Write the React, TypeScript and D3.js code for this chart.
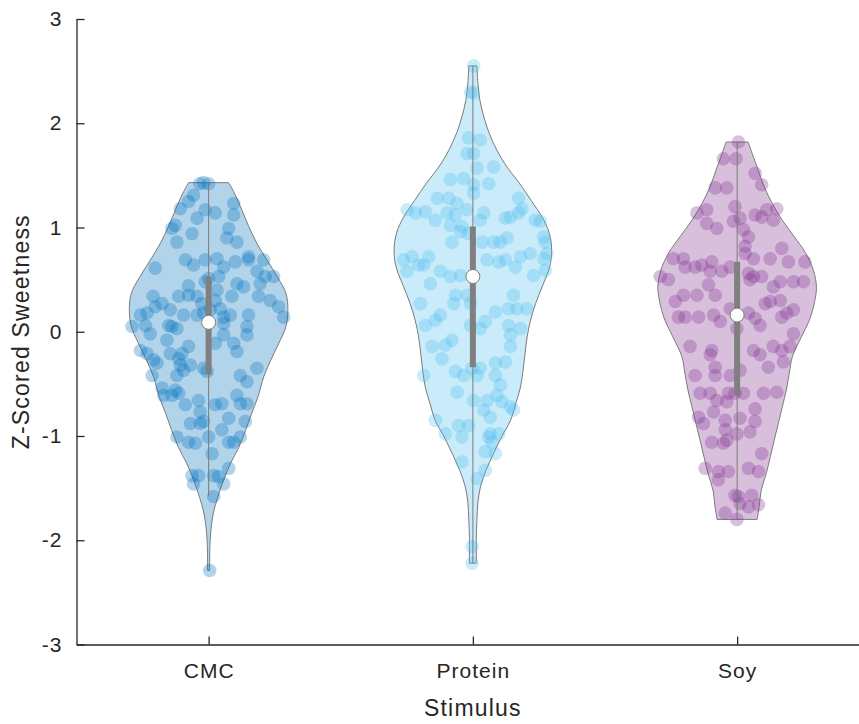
import { useEffect, useRef } from 'react';
import * as d3 from 'd3';

const categories = ['CMC', 'Protein', 'Soy'];
const colors = ['#0072BD', '#4DBEEE', '#7E2F8E'];
const yTicks = [-3, -2, -1, 0, 1, 2, 3];

// scores per stimulus, with the horizontal jitter of each dot (in category units)
const cmcValues = [
  1.42, 1.42, 1.43, 1.31, 1.25, 1.18, 1.09, 1.17, 1.14, 0.94,
  1.02, 0.99, 0.86, 1.23, 1.12, 0.99, 0.90, 0.86, 0.61, 0.69,
  0.64, 0.69, 0.70, 0.62, 0.67, 0.72, 0.69, 0.69, 0.58, 0.53,
  0.53, 0.46, 0.46, 0.43, 0.53, 0.51, 0.48, 0.44, 0.35, 0.34,
  0.34, 0.27, 0.30, 0.40, 0.34, 0.34, 0.30, 0.24, 0.14, 0.34,
  0.27, 0.24, 0.18, 0.16, 0.05, 0.06, -0.02, 0.06, 0.05, 0.03,
  0.21, 0.16, 0.16, 0.18, 0.21, 0.22, 0.14, 0.16, 0.16, 0.05,
  -0.03, 0.08, -0.11, -0.03, -0.11, -0.19, -0.08, -0.14, -0.21, -0.21,
  -0.26, -0.32, -0.42, -0.37, -0.32, -0.35, -0.38, -0.18, -0.21, -0.27,
  -0.30, -0.42, -0.42, -0.48, -0.35, -0.54, -0.56,
  -0.61, -0.61, -0.59, -0.70, -0.66, -0.77, -0.86, -0.88, -0.88, -0.70,
  -0.69, -0.61, -0.69, -0.69, -0.83, -0.86, -0.94, -1.01, -1.06, -1.07,
  -1.01, -1.17, -1.06, -1.06, -1.01, -1.38, -1.38, -1.46, -1.38, -1.39,
  -1.46, -1.31, -1.58, -2.29
];
const cmcJitter = [
  -0.034, 0, -0.019, -0.057, -0.076, -0.107, -0.044, -0.013, 0.025, -0.063,
  -0.126, -0.139, -0.120, 0.095, 0.095, 0.076, 0.069, 0.107, -0.202, -0.088,
  -0.057, -0.013, 0.032, 0.057, 0.101, 0.151, 0.151, 0.208, 0.183, 0.214,
  0.246, 0.195, 0.107, 0.132, 0.038, 0, -0.013, -0.076, -0.076, -0.113,
  -0.044, -0.025, 0.025, 0.032, 0.088, 0.189, 0.233, 0.265, 0.284, -0.210,
  -0.176, -0.202, -0.233, -0.258, -0.290, -0.239, -0.221, -0.151, -0.139, -0.120,
  -0.145, -0.095, -0.044, -0.019, 0.006, 0.044, 0.057, 0.082, 0.151, 0.145,
  0.145, 0.057, 0.025, 0.057, 0.095, 0.107, -0.158, -0.076, -0.101, -0.145,
  -0.113, -0.107, -0.120, -0.095, -0.069, -0.019, -0.006, -0.258, -0.233, -0.208,
  -0.195, -0.214, 0.120, 0.145, 0.183, -0.176, -0.126,
  -0.170, -0.139, -0.113, -0.088, -0.038, -0.032, -0.019, -0.069, -0.032, 0.025,
  0.050, 0.107, 0.120, 0.145, 0.076, 0.139, 0.050, -0.120, -0.076, -0.050,
  0, 0.013, 0.076, 0.095, 0.120, -0.063, -0.038, -0.057, 0.019, 0.038,
  0.057, 0.076, 0.019, 0.004
];

const proteinValues = [
  2.55, 2.30, 2.29, 1.86, 1.84, 1.71, 1.71, 1.57, 1.58, 1.46,
  1.47, 1.41, 1.42, 1.33, 1.28, 1.28, 1.23, 1.17, 1.14, 1.12,
  1.02, 1.01, 1.07, 1.15, 1.17, 1.14, 1.14, 1.07, 1.09, 1.10,
  1.14, 1.18, 1.28, 1.07, 1.06, 0.96, 0.94, 0.86, 0.86, 0.86,
  0.90, 0.91, 0.86, 0.86, 0.69, 0.72, 0.64, 0.64, 0.72, 0.58,
  0.53, 0.54, 0.69, 0.67, 0.69, 0.62, 0.72, 0.75, 0.70, 0.75,
  0.54, 0.59, 0.58,
  0.46, 0.35, 0.35, 0.35, 0.27, 0.27, 0.27, 0.19, 0.22, 0.22,
  0.22, 0.16, 0.11, 0.06, 0.06, 0.03, 0.10, 0.06, 0.03, -0.03,
  -0.08, -0.13, -0.14, -0.26, -0.14, -0.30, -0.29, -0.38, -0.42, -0.35,
  -0.42, -0.35, -0.42, -0.42, -0.51, -0.58, -0.66, -0.66, -0.61, -0.67,
  -0.72, -0.75, -0.75, -0.82, -0.85, -0.98, -0.90, -0.90, -1.01, -1.01,
  -1.06, -0.98, -0.98, -1.15, -1.17, -1.25, -1.41, -1.33, -2.06, -2.22
];
const proteinJitter = [
  0.003, -0.009, 0.003, -0.016, 0.028, -0.022, 0.003, 0.016, 0.079, -0.085,
  -0.035, 0.003, 0.060, 0.003, -0.135, -0.091, -0.060, -0.022, -0.098, -0.066,
  -0.085, -0.041, -0.142, -0.180, -0.249, -0.217, 0.041, 0.028, 0.123, 0.142,
  0.173, 0.186, 0.173, 0.236, 0.255, -0.047, -0.016, 0.035, 0.079, 0.104,
  0.129, 0.268, 0.274, -0.079, -0.262, -0.230, -0.205, -0.186, -0.167, -0.123,
  -0.085, -0.047, 0.054, 0.098, 0.123, 0.161, 0.180, 0.217, 0.268, 0.280,
  0.230, 0.274, -0.249,
  -0.161, -0.066, -0.022, 0.154, -0.198, -0.072, -0.009, 0.085, 0.135, 0.167,
  0.205, -0.123, -0.142, -0.180, -0.009, 0.028, 0.047, 0.135, 0.180, 0.142,
  -0.079, -0.104, -0.154, -0.117, 0.142, 0.085, 0.123, -0.066, -0.035, -0.003,
  0.016, 0.028, 0.085, -0.186, 0.104, -0.060, 0.003, 0.054, 0.091, 0.110,
  0.142, 0.154, 0.041, 0.066, -0.142, -0.104, -0.054, -0.016, -0.041, 0.060,
  0.072, 0.066, 0.098, 0.047, 0.085, -0.041, 0.016, 0.047, -0.003, -0.003
];

const soyValues = [
  1.82, 1.66, 1.66, 1.52, 1.41, 1.38, 1.38, 1.14, 1.17, 1.04,
  0.99, 1.20, 1.06, 1.09, 0.98, 0.91, 1.12, 1.10, 1.07, 1.17,
  1.18, 0.80, 0.67, 0.67, 0.70, 0.70, 0.75, 0.82, 0.70, 0.70,
  0.62, 0.62, 0.64, 0.67, 0.58, 0.58, 0.62, 0.53, 0.50, 0.45,
  0.35, 0.35, 0.35, 0.29, 0.14, 0.14, 0.14, 0.16, 0.10, 0.22,
  0.03, 0.56, 0.53, 0.53, 0.50, 0.43, 0.48, 0.48, 0.48, 0.18,
  0.13, 0.06, 0.27, 0.29, 0.30, 0.18, 0.14, 0.21, -0.02, -0.14,
  -0.18, -0.18, -0.14, -0.14,
  -0.22, -0.18, -0.22, -0.34, -0.42, -0.42, -0.42, -0.37, -0.34, -0.29,
  -0.59, -0.59, -0.66, -0.59, -0.67, -0.59, -0.59, -0.59, -0.58, -0.74,
  -0.82, -0.88, -0.77, -0.85, -0.94, -0.83, -0.86, -0.96, -0.98, -1.06,
  -1.07, -1.04, -1.17, -1.31, -1.34, -1.42, -1.34, -1.31, -1.34, -1.57,
  -1.58, -1.57, -1.65, -1.68, -1.66, -1.74, -1.80
];
const soyJitter = [
  0.005, -0.052, -0.004, 0.068, 0.093, -0.083, -0.039, -0.152, -0.115, -0.115,
  -0.077, -0.008, -0.014, 0.011, 0.024, 0.043, 0.068, 0.093, 0.137, 0.112,
  0.150, 0.169, 0.194, 0.257, 0.125, 0.062, 0.030, 0.030, -0.241, -0.203,
  -0.197, -0.159, -0.134, -0.096, -0.102, -0.058, -0.026, -0.291, -0.260, -0.108,
  -0.083, -0.152, -0.203, -0.234, -0.222, -0.197, -0.146, -0.089, -0.064, -0.026,
  -0.001, 0.043, 0.062, 0.093, 0.049, 0.137, 0.163, 0.213, 0.251, 0.043,
  0.068, 0.087, 0.106, 0.125, 0.163, 0.188, 0.169, 0.213, 0.213, -0.178,
  -0.096, 0.062, 0.137, 0.200,
  0.087, 0.169, -0.102, -0.083, -0.083, -0.159, -0.026, 0.011, 0.118, 0.175,
  -0.140, -0.102, -0.077, -0.033, -0.039, -0.008, 0.024, 0.100, 0.150, 0.068,
  -0.146, -0.127, -0.089, -0.045, -0.045, 0.011, 0.068, 0.049, -0.001, -0.096,
  -0.052, -0.039, 0.093, -0.121, -0.071, -0.071, -0.033, 0.043, 0.081, -0.008,
  0.005, 0.055, 0.011, 0.043, 0.081, -0.045, -0.001
];

// kernel density outline (normalised to 1 at its widest)
const cmcGrid = [1.43, 1.33, 1.17, 1.01, 0.85, 0.69, 0.52, 0.37, 0.21, 0.05, -0.11, -0.27, -0.43, -0.63, -0.78, -0.94, -1.11, -1.26, -1.42, -1.59, -1.74, -1.90, -2.06, -2.29];
const cmcDensity = [0.253, 0.325, 0.418, 0.506, 0.608, 0.734, 0.873, 0.975, 1, 0.975, 0.886, 0.785, 0.696, 0.620, 0.544, 0.468, 0.380, 0.278, 0.190, 0.114, 0.059, 0.029, 0.016, 0.013];
const proteinGrid = [2.55, 2.39, 2.22, 2.06, 1.91, 1.74, 1.58, 1.43, 1.26, 1.10, 0.95, 0.78, 0.62, 0.43, 0.27, 0.11, -0.05, -0.21, -0.37, -0.53, -0.68, -0.85, -1.01, -1.16, -1.33, -1.49, -1.64, -1.81, -1.97, -2.22];
const proteinDensity = [0.051, 0.063, 0.089, 0.139, 0.203, 0.304, 0.430, 0.582, 0.734, 0.873, 0.962, 0.994, 0.968, 0.873, 0.791, 0.728, 0.684, 0.658, 0.633, 0.601, 0.544, 0.475, 0.361, 0.266, 0.165, 0.095, 0.063, 0.051, 0.044, 0.044];
const soyGrid = [1.82, 1.71, 1.55, 1.39, 1.23, 1.07, 0.91, 0.76, 0.59, 0.43, 0.28, 0.11, -0.05, -0.24, -0.40, -0.56, -0.72, -0.88, -1.04, -1.20, -1.36, -1.52, -1.68, -1.80];
const soyDensity = [0.139, 0.190, 0.266, 0.342, 0.443, 0.570, 0.722, 0.861, 0.962, 1, 0.975, 0.911, 0.810, 0.696, 0.658, 0.620, 0.570, 0.519, 0.468, 0.418, 0.367, 0.304, 0.278, 0.253];

// box statistics
const medians = [0.09, 0.53, 0.16];
const q1 = [-0.41, -0.34, -0.61];
const q3 = [0.53, 1.01, 0.67];
const whiskerLow = [-1.58, -2.22, -1.80];
const whiskerHigh = [1.43, 2.55, 1.82];

const groups = [
  { values: cmcValues, jitter: cmcJitter, grid: cmcGrid, density: cmcDensity },
  { values: proteinValues, jitter: proteinJitter, grid: proteinGrid, density: proteinDensity },
  { values: soyValues, jitter: soyJitter, grid: soyGrid, density: soyDensity }
];

const VIOLIN_WIDTH = 0.3;
const FONT = '"Liberation Sans", Arial, Helvetica, sans-serif';
const AXIS_COLOR = '#262626';
const EDGE = '#7a7a7a';

const App = () => {
  const svgRef = useRef(null);

  useEffect(() => {
    document.body.style.margin = '0';
    const svg = d3.select(svgRef.current);
    svg.selectAll('*').remove();

    const width = 859;
    const height = 724;
    svg.attr('width', width).attr('height', height).style('display', 'block');

    const x = d3.scaleLinear().domain([0.5, 3.5]).range([76.5, 76.5 + 3 * 264.25]);
    const y = d3.scaleLinear().domain([-3, 3]).range([644.5, 19]);

    const plot = svg.append('g');

    groups.forEach((g, i) => {
      const pos = i + 1;
      const color = colors[i];
      const profile = g.grid.map((v, k) => ({ v, w: g.density[k] }));

      const area = d3
        .area()
        .y(d => y(d.v))
        .x0(d => x(pos - d.w * VIOLIN_WIDTH))
        .x1(d => x(pos + d.w * VIOLIN_WIDTH))
        .curve(d3.curveCatmullRom);

      plot
        .append('path')
        .datum(profile)
        .attr('d', area)
        .attr('fill', color)
        .attr('fill-opacity', 0.3)
        .attr('stroke', EDGE)
        .attr('stroke-width', 1);

      plot
        .append('g')
        .selectAll('circle')
        .data(g.values)
        .enter()
        .append('circle')
        .attr('cx', (d, k) => x(pos + g.jitter[k]))
        .attr('cy', d => y(d))
        .attr('r', 6.8)
        .attr('fill', color)
        .attr('fill-opacity', 0.3);

      // whisker
      plot
        .append('line')
        .attr('x1', x(pos))
        .attr('x2', x(pos))
        .attr('y1', y(whiskerLow[i]))
        .attr('y2', y(whiskerHigh[i]))
        .attr('stroke', EDGE)
        .attr('stroke-width', 1);

      // interquartile box
      plot
        .append('rect')
        .attr('x', x(pos) - 3)
        .attr('width', 6)
        .attr('y', y(q3[i]))
        .attr('height', y(q1[i]) - y(q3[i]))
        .attr('fill', '#808080');

      // median
      plot
        .append('circle')
        .attr('cx', x(pos))
        .attr('cy', y(medians[i]))
        .attr('r', 7)
        .attr('fill', '#fff')
        .attr('stroke', EDGE)
        .attr('stroke-width', 1);
    });

    // Axes
    const yAxis = svg
      .append('g')
      .attr('transform', `translate(${x(0.5)},0)`)
      .call(
        d3
          .axisLeft(y)
          .tickValues(yTicks)
          .tickFormat(d => String(d))
          .tickSizeInner(-8)
          .tickSizeOuter(0)
          .tickPadding(14)
      );

    const xAxis = svg
      .append('g')
      .attr('transform', `translate(0,${y(-3)})`)
      .call(
        d3
          .axisBottom(x)
          .tickValues([1, 2, 3])
          .tickFormat((d, k) => categories[k])
          .tickSizeInner(-8)
          .tickSizeOuter(0)
          .tickPadding(19)
      );

    [xAxis, yAxis].forEach(a => {
      a.select('.domain').attr('stroke', AXIS_COLOR).attr('stroke-width', 1.3);
      a.selectAll('.tick line').attr('stroke', AXIS_COLOR).attr('stroke-width', 1.3);
      a.selectAll('.tick text')
        .attr('fill', AXIS_COLOR)
        .style('font-family', FONT)
        .style('font-size', '21px')
        .style('letter-spacing', '1px');
    });

    // Axis labels
    svg
      .append('text')
      .attr('x', x(2))
      .attr('y', 716)
      .attr('text-anchor', 'middle')
      .attr('fill', AXIS_COLOR)
      .style('font-family', FONT)
      .style('font-size', '23px')
      .style('letter-spacing', '1.2px')
      .text('Stimulus');

    svg
      .append('text')
      .attr('transform', `translate(29,${y(0)}) rotate(-90)`)
      .attr('text-anchor', 'middle')
      .attr('fill', AXIS_COLOR)
      .style('font-family', FONT)
      .style('font-size', '23px')
      .style('letter-spacing', '1.2px')
      .text('Z-Scored Sweetness');
  }, []);

  return <svg ref={svgRef}></svg>;
};

export default App;
